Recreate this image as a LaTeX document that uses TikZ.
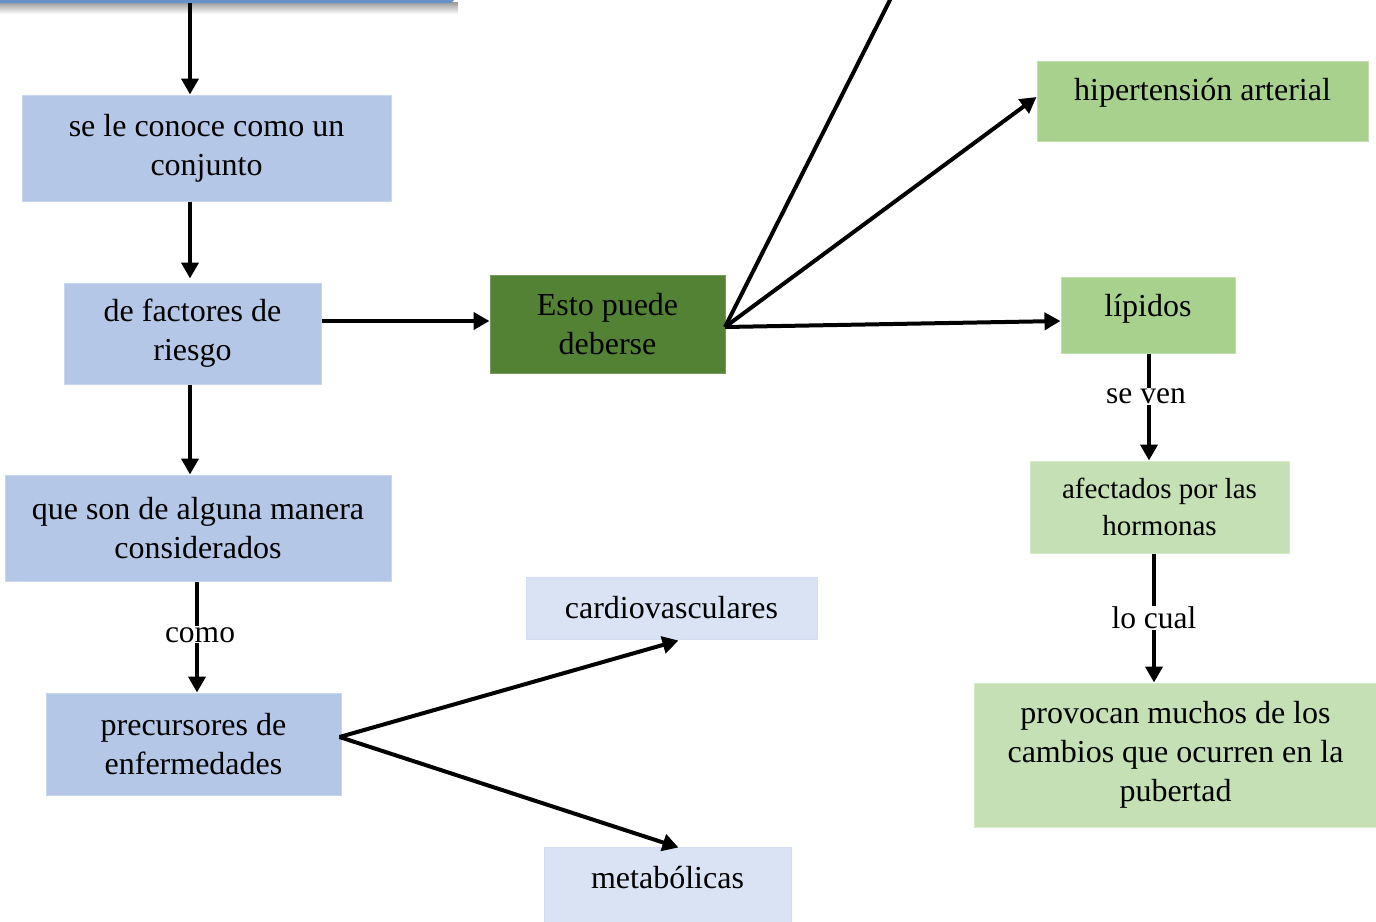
\documentclass[tikz,border=0pt]{standalone}
\usepackage{fontspec}
\setmainfont{Liberation Serif}
\usetikzlibrary{arrows.meta,calc}
\definecolor{bluebox}{HTML}{B4C7E7}
\definecolor{bluelight}{HTML}{DAE3F3}
\definecolor{greendark}{HTML}{548235}
\definecolor{greenmid}{HTML}{A9D18E}
\definecolor{greenlight}{HTML}{C5E0B4}
\definecolor{topblue}{HTML}{6592C9}
\begin{document}
\begin{tikzpicture}[x=1pt,y=-1pt,
  box/.style={rectangle, inner sep=0pt, align=center, line width=1pt,
    font=\fontsize{32}{39}\selectfont},
  ln/.style={line width=4pt},
  arr/.style={line width=4pt, -{Triangle[length=16pt,width=17pt]}},
  lbl/.style={fill=white, inner sep=1pt, font=\fontsize{31.5}{38}\selectfont}]
\useasboundingbox (0,0) rectangle (1376,921);
% top partial box with shadow
\shade[top color=black!40, bottom color=white] (0,2) rectangle (458,14);
\node[rectangle, fill=topblue, inner sep=0pt, minimum width=470pt, minimum height=40pt, rounded corners=6pt] (top) at (220,-17) {};
% left column
\node[box, fill=bluebox, draw=bluebox!75!white, minimum width=369pt, minimum height=106pt] (b1) at (206.5,148) {se le conoce como un\\conjunto};
\node[box, fill=bluebox, draw=bluebox!75!white, minimum width=257pt, minimum height=101pt] (b2) at (192.5,333.5) {de factores de\\riesgo};
\node[box, fill=bluebox, draw=bluebox!75!white, minimum width=386pt, minimum height=106pt] (b3) at (198,528) {que son de alguna manera\\considerados};
\node[box, fill=bluebox, draw=bluebox!75!white, minimum width=295pt, minimum height=102pt] (b4) at (193.5,744) {precursores de\\enfermedades};
\node[box, fill=bluelight, draw=bluebox!60!white, minimum width=291pt, minimum height=62pt] (cardio) at (671.5,608) {cardiovasculares};
\node[box, fill=bluelight, draw=bluebox!60!white, minimum width=247pt, minimum height=80pt, text height=20pt, text depth=17pt] (metab) at (667.5,887) {metabólicas};
% center
\node[box, fill=greendark, draw=greendark!80!white, minimum width=235pt, minimum height=98pt] (esto) at (607.5,324) {Esto puede\\deberse};
% right column
\node[box, fill=greenmid, draw=greenmid!70!white, minimum width=331pt, minimum height=80pt, text height=20pt, text depth=21pt] (hip) at (1202.5,101) {hipertensión arterial};
\node[box, fill=greenmid, draw=greenmid!70!white, minimum width=174pt, minimum height=76pt, text height=20pt, text depth=17pt] (lip) at (1148,315) {lípidos};
\node[box, fill=greenlight, draw=greenlight!70!white, minimum width=259pt, minimum height=92pt, font=\fontsize{29}{37}\selectfont] (afect) at (1159.5,507) {afectados por las\\hormonas};
\node[box, fill=greenlight, draw=greenlight!70!white, minimum width=402pt, minimum height=144pt] (prov) at (1175.5,755) {provocan muchos de los\\cambios que ocurren en la\\pubertad};
% connectors
\coordinate (x190) at (190,0);
\coordinate (x197) at (197,0);
\coordinate (x1152) at (1154,0);
\draw[arr] (top.south -| x190) -- (b1.north -| x190);
\draw[arr] (b1.south -| x190) -- ($(b2.north -| x190)+(0,-4)$);
\draw[arr] (b2.south -| x190) -- (b3.north -| x190);
\draw[arr] (b3.south -| x197) -- node[lbl, pos=0.48, xshift=3pt] (como) {como} (b4.north -| x197);
\draw[arr] (b2.east |- esto.west) ++(0,-3) coordinate (b2r) -- ($(esto.west)+(0,-3)$);
\draw[arr] ($(b4.east)+(-2,-7)$) coordinate (b4r) -- ($(cardio.south)+(7,1)$);
\draw[arr] (b4r) -- ($(metab.north)+(11,1)$);
\coordinate (eo) at (725,327);
\coordinate (topend) at (892,-4);
\draw[ln] (eo) -- (topend);
\draw[arr] (eo) -- ($(hip.west)+(0,-4)$);
\draw[arr] (eo) -- ($(lip.west)+(0,6)$);
\draw[arr] ($(lip.south)+(1,0)$) -- node[lbl, pos=0.4, xshift=-3pt] (seven) {se ven} ($(afect.north -| lip.south)+(1,0)$);
\draw[arr] (afect.south -| x1152) -- node[lbl, pos=0.5] (locual) {lo cual} (prov.north -| x1152);
\end{tikzpicture}
\end{document}
